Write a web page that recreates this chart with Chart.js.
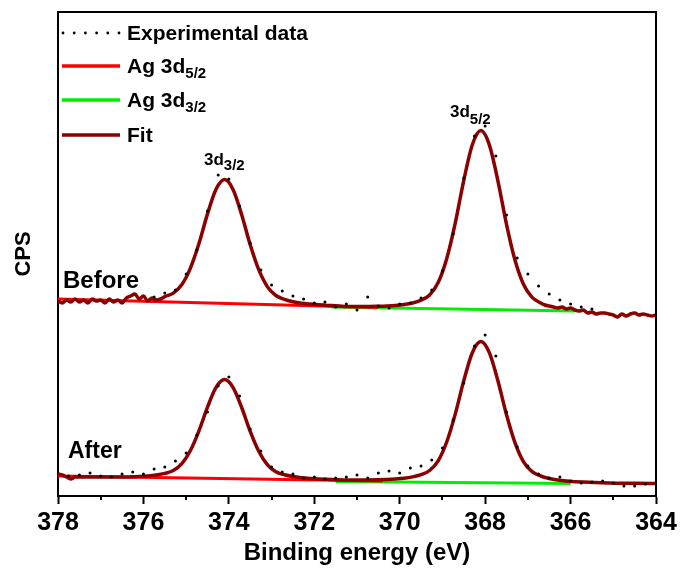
<!DOCTYPE html>
<html>
<head>
<meta charset="utf-8">
<script src="https://cdn.jsdelivr.net/npm/chart.js@4.4.0/dist/chart.umd.min.js"></script>
<style>
    html, body { margin: 0; padding: 0; background: #fff; }
    #wrap { width: 683px; height: 569px; }
</style>
</head>
<body>
<div id="wrap"><canvas id="xpsChart"></canvas></div>
<script>
// Ag 3d XPS, binding energy in eV, intensity in arbitrary CPS units

var beforeFitE = [378.0, 377.9, 377.8, 377.7, 377.6, 377.5, 377.4, 377.3, 377.2, 377.1, 377.0, 376.9, 376.8, 376.7, 376.6, 376.5, 376.4, 376.3, 376.2, 376.1, 376.0, 375.9, 375.8, 375.7, 375.6,
    375.5, 375.3, 375.1, 374.9, 374.7, 374.5, 374.3, 374.1, 373.9, 373.7, 373.5, 373.3, 373.1, 372.9, 372.7, 372.5, 372.3, 372.1, 371.9, 371.7, 371.5, 371.3, 371.1,
    370.9, 370.7, 370.5, 370.3, 370.1, 369.9, 369.7, 369.5, 369.3, 369.1, 368.9, 368.7, 368.5, 368.3, 368.1, 367.9, 367.7, 367.5, 367.3, 367.1, 366.9, 366.7,
    366.6, 366.5, 366.4, 366.3, 366.2, 366.1, 366.0, 365.9, 365.8, 365.7, 365.6, 365.5, 365.4, 365.3, 365.2, 365.1, 365.0, 364.9, 364.8, 364.7, 364.6, 364.5, 364.4, 364.3, 364.2, 364.1, 364.0];
var beforeFitCPS = [195, 193, 196, 194, 197, 194, 196, 193, 197, 195, 196, 193, 197, 194, 196, 193, 198, 200, 202, 197, 200, 195, 198, 196, 197,
    199.4, 202.9, 211.4, 227.9, 252.5, 282.1, 306.7, 316.4, 306.3, 281.3, 251.3, 226.3, 209.4, 200.5, 196.6, 194.3, 192.8, 191.9, 191.2, 190.6, 190.2, 189.6, 189.4,
    189.6, 189.5, 189.7, 190.0, 190.5, 191.4, 193.0, 195.9, 201.0, 213.4, 237.3, 272.9, 315.7, 351.3, 365.4, 350.9, 314.9, 271.7, 235.7, 211.4, 198.6, 193.1,
    191, 190, 189, 188, 189, 187, 188, 186, 185, 186, 183, 184, 182, 183, 183, 182, 181, 179, 182, 180, 182, 183, 181, 182, 181, 180, 181];

var beforeDataE = [375.75, 375.5, 375.25, 375.0, 374.75, 374.5, 374.25, 374.0, 373.75, 373.5, 373.25, 373.0, 372.75, 372.5, 372.25, 372.0, 371.75, 371.5, 371.25, 371.0, 370.75,
    370.5, 370.25, 370.0, 369.75, 369.5, 369.25, 369.0, 368.75, 368.5, 368.25, 368.0, 367.75, 367.5, 367.25, 367.0, 366.75, 366.5, 366.25, 366.0, 365.75, 365.5];
var beforeDataCPS = [199, 203, 206, 222, 246, 285, 321, 317, 290, 253, 226, 211, 205, 200, 197, 193, 194, 189, 192, 186, 199,
    190, 188, 192, 193, 198, 206, 225, 262, 318, 360, 370, 340, 281, 238, 222, 210, 202, 196, 192, 189, 187];

var beforeRedE = [378.0, 370.5];
var beforeRedCPS = [197, 188.5];
var beforeGreenE = [371.6, 365.9];
var beforeGreenCPS = [189, 185];

var afterFitE = [378.0, 377.9, 377.8, 377.7, 377.6, 377.5, 376.5, 376.1, 375.9, 375.7, 375.5, 375.3, 375.1, 374.9, 374.7, 374.5, 374.3, 374.1, 373.9, 373.7, 373.5,
    373.3, 373.1, 372.9, 372.7, 372.5, 372.3, 372.1, 371.7, 371.1, 370.5, 370.1, 369.9, 369.7, 369.5, 369.3, 369.1, 368.9, 368.7, 368.5, 368.3, 368.1, 367.9,
    367.7, 367.5, 367.3, 367.1, 366.9, 366.7, 366.5, 366.3, 366.1, 365.7, 365.1, 364.5, 364.0];
var afterFitCPS = [22, 21, 19, 17, 19, 19.1, 19.1, 19.6, 20.1, 21.0, 22.6, 25.4, 32.3, 45.5, 65.2, 88.9, 108.6, 116.4, 108.4, 88.5, 64.6,
    44.7, 31.3, 24.2, 21.2, 19.4, 18.3, 17.6, 16.7, 15.9, 16.3, 17.1, 17.8, 19.1, 21.4, 25.5, 35.2, 54.0, 81.9, 115.4, 143.3, 154.4, 143.1,
    115.0, 81.3, 53.2, 34.2, 24.3, 20.0, 17.5, 16.0, 15.1, 13.9, 13.0, 12.7, 12.5];

var afterDataE = [377.75, 377.5, 377.25, 377.0, 376.75, 376.5, 376.25, 376.0, 375.75, 375.5, 375.25, 375.0, 374.75, 374.5, 374.25, 374.0, 373.75, 373.5, 373.25,
    373.0, 372.75, 372.5, 372.25, 372.0, 371.75, 371.5, 371.25, 371.0, 370.75, 370.5, 370.25, 370.0, 369.75, 369.5, 369.25, 369.0, 368.75, 368.5, 368.25,
    368.0, 367.75, 367.5, 367.25, 367.0, 366.75, 366.5, 366.25, 366.0, 365.75, 365.5, 365.25, 365.0, 364.75, 364.5, 364.25];
var afterDataCPS = [20, 21, 23, 20, 19, 22, 24, 22, 27, 29, 35, 43, 61, 84, 110, 119, 100, 67, 45,
    29, 24, 22, 18, 19, 17, 18, 19, 21, 18, 23, 25, 23, 28, 30, 36, 48, 76, 113, 150,
    161, 140, 84, 49, 30, 22, 18, 19, 15, 13, 14, 15, 13, 10, 10, 12];

var afterRedE = [378.0, 370.4];
var afterRedCPS = [20, 15];
var afterGreenE = [371.5, 366.0];
var afterGreenCPS = [14.5, 12.5];

var energyTicks = [378, 376, 374, 372, 370, 368, 366, 364];
var legendNames = ['Experimental data', 'Ag 3d|5/2', 'Ag 3d|3/2', 'Fit'];

var FIT_COLOR = '#8b0000';
var RED = '#ff0000';
var GREEN = '#00ee00';
var FONT = "'Liberation Sans', Arial, sans-serif";

function pairs(e, v) {
    var out = [];
    for (var i = 0; i < e.length; i++) {
        out.push({ x: e[i], y: v[i] });
    }
    return out;
}

function lineSet(label, e, v, color, width, smooth) {
    return {
        label: label,
        data: pairs(e, v),
        borderColor: color,
        borderWidth: width,
        pointRadius: 0,
        fill: false,
        cubicInterpolationMode: smooth ? 'monotone' : 'default',
        tension: 0
    };
}

function dotSet(label, e, v) {
    return {
        label: label,
        data: pairs(e, v),
        showLine: false,
        pointRadius: 1.5,
        pointBackgroundColor: '#000',
        pointBorderWidth: 0,
        borderColor: '#000'
    };
}

// text with subscript, "Ag 3d|5/2"
function drawSubText(ctx, str, x, y, size, subSize, subDrop) {
    var parts = str.split('|');
    ctx.font = 'bold ' + size + 'px ' + FONT;
    ctx.fillText(parts[0], x, y);
    if (parts.length > 1) {
        var w = ctx.measureText(parts[0]).width;
        ctx.font = 'bold ' + subSize + 'px ' + FONT;
        ctx.fillText(parts[1], x + w, y + subDrop);
    }
}

var decorPlugin = {
    id: 'decor',
    afterDraw: function (chart) {
        var ctx = chart.ctx;
        var area = chart.chartArea;
        var xs = chart.scales.x;
        ctx.save();

        // top and right frame
        ctx.strokeStyle = '#000';
        ctx.lineWidth = 2;
        ctx.beginPath();
        ctx.moveTo(area.left, area.top);
        ctx.lineTo(area.right, area.top);
        ctx.lineTo(area.right, area.bottom);
        ctx.stroke();

        // minor ticks at odd energies
        for (var e = 377; e > 364; e -= 2) {
            var px = Math.round(xs.getPixelForValue(e));
            ctx.beginPath();
            ctx.moveTo(px, area.bottom);
            ctx.lineTo(px, area.bottom + 4);
            ctx.stroke();
        }

        // legend
        ctx.fillStyle = '#000';
        ctx.textBaseline = 'alphabetic';
        ctx.textAlign = 'left';
        var rows = [33, 66, 100, 135];
        var colors = [null, RED, GREEN, FIT_COLOR];
        for (var i = 0; i < legendNames.length; i++) {
            var yy = rows[i];
            if (i === 0) {
                for (var k = 0; k < 6; k++) {
                    ctx.beginPath();
                    ctx.arc(63 + k * 11.2, yy, 1.4, 0, Math.PI * 2);
                    ctx.fill();
                }
            } else {
                ctx.strokeStyle = colors[i];
                ctx.lineWidth = 3.5;
                ctx.beginPath();
                ctx.moveTo(62, yy);
                ctx.lineTo(120, yy);
                ctx.stroke();
            }
            drawSubText(ctx, legendNames[i], 127, yy + 7, 21, 15, 5);
        }

        // peak and spectrum labels
        drawSubText(ctx, '3d|3/2', 204, 165, 17, 15, 5);
        drawSubText(ctx, '3d|5/2', 450, 117, 17, 15, 7);
        ctx.font = 'bold 24px ' + FONT;
        ctx.fillText('Before', 63, 288);
        ctx.font = 'bold 23px ' + FONT;
        ctx.fillText('After', 68, 458);

        ctx.restore();
    }
};

var ctx = document.getElementById('xpsChart').getContext('2d');

var xpsChart = new Chart(ctx, {
    type: 'line',
    data: {
        datasets: [
            dotSet('Before data', beforeDataE, beforeDataCPS),
            dotSet('After data', afterDataE, afterDataCPS),
            lineSet('Before fit', beforeFitE, beforeFitCPS, FIT_COLOR, 3.5, true),
            lineSet('After fit', afterFitE, afterFitCPS, FIT_COLOR, 3.5, true),
            lineSet('Before Ag 3d5/2', beforeRedE, beforeRedCPS, RED, 3, false),
            lineSet('Before Ag 3d3/2', beforeGreenE, beforeGreenCPS, GREEN, 3, false),
            lineSet('After Ag 3d5/2', afterRedE, afterRedCPS, RED, 3, false),
            lineSet('After Ag 3d3/2', afterGreenE, afterGreenCPS, GREEN, 3, false)
        ]
    },
    options: {
        responsive: true,
        maintainAspectRatio: false,
        animation: false,
        layout: { padding: { top: 12, right: 27, left: 0, bottom: 0 } },
        plugins: {
            legend: { display: false },
            tooltip: { enabled: false }
        },
        scales: {
            x: {
                type: 'linear',
                reverse: true,
                min: 364,
                max: 378,
                afterFit: function (scale) { scale.height = 73; },
                afterBuildTicks: function (scale) {
                    scale.ticks = energyTicks.map(function (v) { return { value: v }; });
                },
                ticks: {
                    color: '#000',
                    padding: 4,
                    maxRotation: 0,
                    autoSkip: false,
                    font: { family: FONT, size: 25, weight: 'bold' }
                },
                grid: {
                    display: true,
                    drawOnChartArea: false,
                    drawTicks: true,
                    tickLength: 8,
                    tickWidth: 2,
                    tickColor: '#000'
                },
                border: { display: true, color: '#000', width: 2 },
                title: {
                    display: true,
                    text: 'Binding energy (eV)',
                    color: '#000',
                    padding: { top: 0, bottom: 1 },
                    font: { family: FONT, size: 24, weight: 'bold' }
                }
            },
            y: {
                min: 0,
                max: 484,
                afterFit: function (scale) { scale.width = 58; },
                ticks: { display: false },
                grid: { display: false },
                border: { display: true, color: '#000', width: 2 },
                title: {
                    display: true,
                    text: 'CPS',
                    color: '#000',
                    padding: { top: 11, bottom: 0 },
                    font: { family: FONT, size: 22, weight: 'bold' }
                }
            }
        }
    },
    plugins: [decorPlugin]
});
</script>
</body>
</html>
